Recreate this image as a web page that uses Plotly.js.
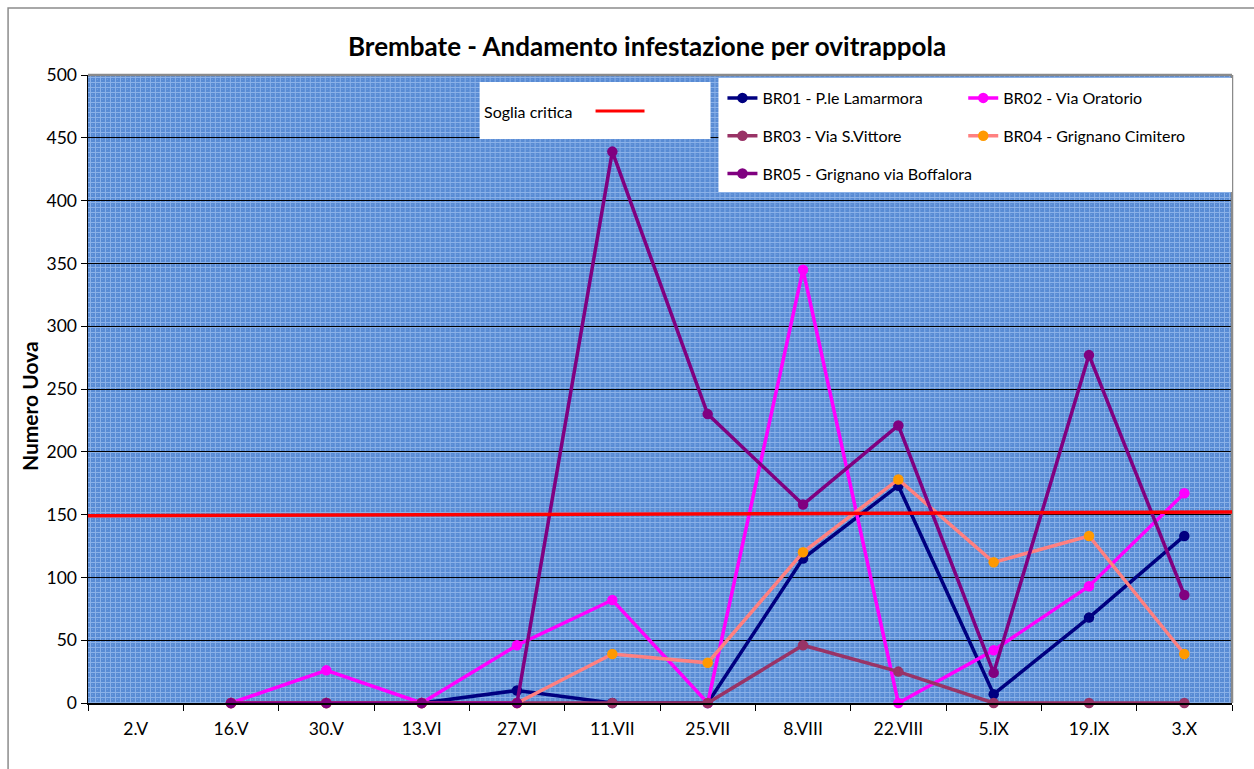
<!DOCTYPE html>
<html>
<head>
<meta charset="utf-8">
<script src="https://cdn.plot.ly/plotly-3.0.1.min.js"></script>
<style>
html,body{margin:0;padding:0;background:#fff;}
#chart{width:1254px;height:769px;}
</style>
</head>
<body>
<div id="chart"></div>
<script>
// ---- data ----
const categories = ["2.V","16.V","30.V","13.VI","27.VI","11.VII","25.VII","8.VIII","22.VIII","5.IX","19.IX","3.X"];
const br01 = [null, 0, 0, 0, 10, 0, 0, 115, 173, 7, 68, 133];
const br02 = [null, 0, 26, 0, 46, 82, 0, 345, 0, 42, 93, 167];
const br03 = [null, 0, 0, 0, 0, 0, 0, 46, 25, 0, 0, 0];
const br04 = [null, 0, 0, 0, 0, 39, 32, 120, 178, 112, 133, 39];
const br05 = [null, 0, 0, 0, 0, 439, 230, 158, 221, 24, 277, 86];
const seriesNames = ["BR01 - P.le Lamarmora","BR02 - Via Oratorio","BR03 - Via S.Vittore","BR04 - Grignano Cimitero","BR05 - Grignano via Boffalora"];
const thresholdStart = 149;
const thresholdEnd = 152;
const thresholdLabel = "Soglia critica";
const chartTitle = "Brembate - Andamento infestazione per ovitrappola";
const yTitle = "Numero Uova";

// ---- styles ----
const FONT = "Lato, 'Noto Sans', sans-serif";
function tr(name, y, lineColor, markerColor, legend, group){
  return {
    type:'scatter', mode:'lines+markers', name:name, x:categories, y:y,
    line:{color:lineColor, width:3.5},
    marker:{color:markerColor, size:10.5, symbol:'circle'},
    legend:legend, legendgroup:group, connectgaps:false, cliponaxis:false
  };
}
const traces = [
  tr(seriesNames[0], br01, '#000080', '#000080', 'legend', 'a'),
  tr(seriesNames[1], br02, '#FF00FF', '#FF00FF', 'legend2', 'b'),
  tr(seriesNames[2], br03, '#993366', '#993366', 'legend', 'c'),
  tr(seriesNames[3], br04, '#FF8080', '#FF9900', 'legend2', 'd'),
  tr(seriesNames[4], br05, '#800080', '#800080', 'legend', 'e')
];

// background pattern
const W = 1145, H = 628;
const svg = '<svg xmlns="http://www.w3.org/2000/svg" width="'+W+'" height="'+H+'" viewBox="0 0 '+W+' '+H+'" preserveAspectRatio="none">'+
  '<defs><pattern id="p" width="5" height="5" patternUnits="userSpaceOnUse">'+
  '<rect width="5" height="5" fill="#588BD4"/>'+
  '<rect x="0" y="2" width="5" height="1" fill="#8AB1E8"/>'+
  '<rect x="2" y="0" width="1" height="5" fill="#8AB1E8"/>'+
  '<rect x="4" y="4" width="1" height="1" fill="#729EDE"/>'+
  '</pattern></defs><rect width="'+W+'" height="'+H+'" fill="url(#p)"/></svg>';
const bgSrc = 'data:image/svg+xml;charset=utf-8,' + encodeURIComponent(svg);

const L = 88, R = 22, T = 75, B = 66;
function px(x){ return (x - L)/W; }
function py(y){ return (769 - B - y)/H; }

const layout = {
  width:1254, height:769,
  margin:{l:L, r:R, t:T, b:B},
  paper_bgcolor:'#ffffff',
  plot_bgcolor:'rgba(0,0,0,0)',
  font:{family:FONT, size:16, color:'#000'},
  title:{text:'<b>'+chartTitle+'</b>', font:{family:FONT, size:26, color:'#000'}, x:0.516, xanchor:'center', y:1-47/769, yanchor:'middle'},
  xaxis:{
    type:'category', range:[-0.5, 11.5], tickson:'boundaries', ticks:'outside', ticklen:6, tickcolor:'#000',
    showline:true, linecolor:'#000', linewidth:1.5, showgrid:false, zeroline:false,
    tickfont:{family:FONT, size:17.5}, ticklabelstandoff:9, fixedrange:true
  },
  yaxis:{
    range:[0,500], dtick:50, ticks:'outside', ticklen:6, tickcolor:'#000',
    showline:true, linecolor:'#000', linewidth:1.5, showgrid:true, gridcolor:'#000', gridwidth:1,
    zeroline:false, tickfont:{family:FONT, size:17.5}
  },
  images:[{source:bgSrc, xref:'paper', yref:'paper', x:0, y:1, sizex:1, sizey:1, sizing:'stretch', xanchor:'left', yanchor:'top', layer:'below'}],
  showlegend:true,
  legend:{x:px(723), y:py(81), xanchor:'left', yanchor:'top', bgcolor:'rgba(0,0,0,0)', borderwidth:0,
          tracegroupgap:14, font:{family:FONT, size:16}, itemwidth:30, traceorder:'grouped'},
  legend2:{x:px(964), y:py(81), xanchor:'left', yanchor:'top', bgcolor:'rgba(0,0,0,0)', borderwidth:0,
          tracegroupgap:14, font:{family:FONT, size:16}, itemwidth:30, traceorder:'grouped'},
  shapes:[
    // outer chart frame
    {type:'rect', xref:'paper', yref:'paper', x0:px(8), x1:1.2, y0:-0.3, y1:py(8), line:{color:'#8c8c8c', width:1.5}, fillcolor:'rgba(0,0,0,0)', layer:'below'},
    // plot area top and right border
    {type:'line', xref:'paper', yref:'paper', x0:0, x1:1, y0:1, y1:1, line:{color:'#8a8a8a', width:2.5}},
    {type:'line', xref:'paper', yref:'paper', x0:1, x1:1, y0:0, y1:1, line:{color:'#8a8a8a', width:2.5}},
    // threshold line
    {type:'line', xref:'paper', yref:'y', x0:0, x1:1, y0:thresholdStart, y1:thresholdEnd, line:{color:'#FF0000', width:3.5}, layer:'above'},
    // threshold legend box
    {type:'rect', xref:'paper', yref:'paper', x0:px(480), x1:px(711), y0:py(139), y1:py(82), fillcolor:'#ffffff', line:{width:0}, layer:'above'},
    {type:'line', xref:'paper', yref:'paper', x0:px(596), x1:px(645), y0:py(111), y1:py(111), line:{color:'#FF0000', width:3}, layer:'above'},
    // series legend box
    {type:'rect', xref:'paper', yref:'paper', x0:px(719), x1:1, y0:py(192), y1:py(78), fillcolor:'#ffffff', line:{width:0}, layer:'above'}
  ],
  annotations:[
    {text:thresholdLabel, xref:'paper', yref:'paper', x:px(482), y:py(111), xanchor:'left', yanchor:'middle', showarrow:false, font:{family:FONT, size:16, color:'#000'}},
    {text:'<b>'+yTitle+'</b>', xref:'paper', yref:'paper', x:px(29), y:py(406), xanchor:'center', yanchor:'middle', textangle:-90, showarrow:false, font:{family:FONT, size:21, color:'#000', weight:'bold'}}
  ]
};

Plotly.newPlot('chart', traces, layout, {displayModeBar:false, staticPlot:true});
</script>
</body>
</html>
